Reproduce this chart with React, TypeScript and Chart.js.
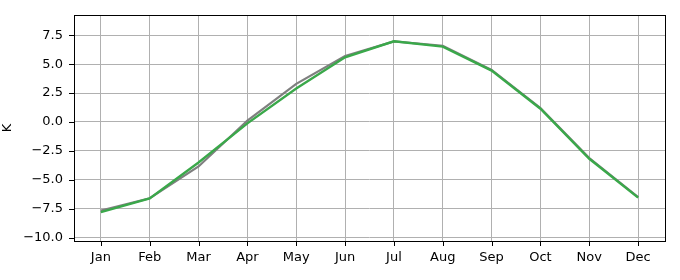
import React, { useEffect, useRef } from "react";
import { Chart, registerables } from "chart.js";

Chart.register(...registerables);

const months = ["Jan", "Feb", "Mar", "Apr", "May", "Jun", "Jul", "Aug", "Sep", "Oct", "Nov", "Dec"];
const graySeries = [-7.67, -6.6, -3.85, 0.12, 3.3, 5.7, 6.98, 6.6, 4.5, 1.2, -3.12, -6.5];
const greenSeries = [-7.8, -6.62, -3.5, -0.12, 2.9, 5.6, 6.98, 6.52, 4.45, 1.15, -3.18, -6.55];
const yTicks = [-10, -7.5, -5, -2.5, 0, 2.5, 5, 7.5];
const yLabel = "K";

const FONT = "'DejaVu Sans', sans-serif";

const frame = {
  id: "frame",
  afterDraw(chart: any) {
    const { ctx, chartArea: a, scales } = chart;
    ctx.save();
    ctx.strokeStyle = "#000";
    ctx.lineWidth = 1;
    ctx.strokeRect(Math.round(a.left) + 0.5, Math.round(a.top) + 0.5, Math.round(a.right - a.left), Math.round(a.bottom - a.top));
    ctx.beginPath();
    scales.x.ticks.forEach((t: any) => {
      const x = Math.round(scales.x.getPixelForValue(t.value)) + 0.5;
      ctx.moveTo(x, a.bottom);
      ctx.lineTo(x, a.bottom + 5);
    });
    scales.y.ticks.forEach((t: any) => {
      const y = Math.round(scales.y.getPixelForValue(t.value)) + 0.5;
      ctx.moveTo(a.left, y);
      ctx.lineTo(a.left - 5, y);
    });
    ctx.stroke();
    ctx.restore();
  },
};

export default function App() {
  const ref = useRef<HTMLCanvasElement>(null);
  useEffect(() => {
    const chart = new Chart(ref.current!, {
      type: "line",
      data: {
        datasets: [
          {
            data: graySeries.map((v, i) => ({ x: i, y: v })),
            borderColor: "#7f7f7f",
            borderWidth: 2.2,
            pointRadius: 0,
            order: 2,
          },
          {
            data: greenSeries.map((v, i) => ({ x: i, y: v })),
            borderColor: "#3aa84a",
            borderWidth: 2.4,
            pointRadius: 0,
            order: 1,
          },
        ],
      },
      options: {
        animation: false,
        responsive: false,
        maintainAspectRatio: false,
        layout: { padding: { top: 15, right: 15, left: 0, bottom: 0 } },
        plugins: { legend: { display: false }, tooltip: { enabled: false } },
        scales: {
          x: {
            type: "linear",
            min: -0.55,
            max: 11.55,
            afterBuildTicks: (s: any) => {
              s.ticks = months.map((_, i) => ({ value: i }));
            },
            afterFit: (s: any) => {
              s.height = 39;
              s.paddingLeft = 0;
              s.paddingRight = 0;
            },
            ticks: {
              autoSkip: false,
              maxRotation: 0,
              padding: 9,
              color: "#000",
              font: { family: FONT, size: 13 },
              callback: (v: any) => months[v] ?? "",
            },
            grid: { color: "#b0b0b0", lineWidth: 1, drawTicks: false },
            border: { display: false },
          },
          y: {
            min: -10.3,
            max: 9.26,
            afterBuildTicks: (s: any) => {
              s.ticks = yTicks.map((v) => ({ value: v }));
            },
            afterFit: (s: any) => {
              s.width = 74;
              s.paddingTop = 0;
              s.paddingBottom = 0;
            },
            ticks: {
              padding: 11,
              color: "#000",
              font: { family: FONT, size: 13 },
              callback: (v: any) => Number(v).toFixed(1).replace("-", "\u2212"),
            },
            title: {
              display: true,
              text: yLabel,
              color: "#000",
              font: { family: FONT, size: 13 },
              padding: { top: 0, bottom: 0 },
            },
            grid: { color: "#b0b0b0", lineWidth: 1, drawTicks: false },
            border: { display: false },
          },
        },
      },
      plugins: [frame],
    });
    return () => chart.destroy();
  }, []);
  return (
    <div style={{ position: "absolute", left: 0, top: 0, width: 680, height: 280, background: "#fff" }}>
      <canvas ref={ref} width={680} height={280} style={{ width: 680, height: 280, display: "block" }} />
    </div>
  );
}
